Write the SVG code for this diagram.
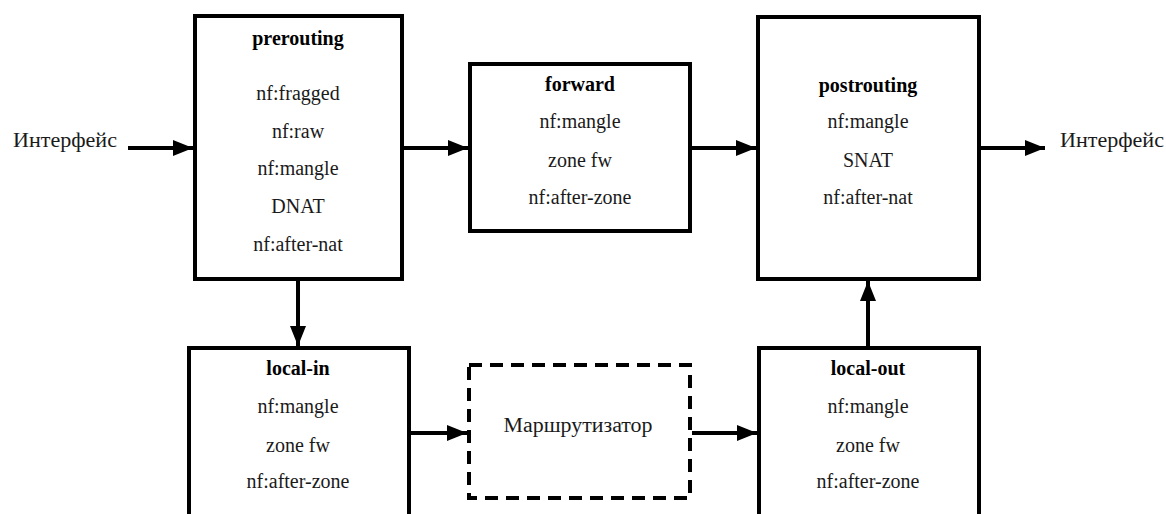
<svg xmlns="http://www.w3.org/2000/svg" width="1166" height="514" viewBox="0 0 1166 514" font-family="Liberation Serif, serif" font-size="20">
<style>
.box{fill:#fff;stroke:#000;stroke-width:4}
.dash{fill:#fff;stroke:#000;stroke-width:4;stroke-dasharray:13 8}
text{fill:#1a1a1a;text-anchor:middle}
.t{font-weight:bold;fill:#000}
.edge{stroke:#000;stroke-width:4;fill:none}
</style>
<defs>
<marker id="ah" markerUnits="userSpaceOnUse" markerWidth="22" markerHeight="18" refX="20" refY="8" orient="auto">
<path d="M0,0 L20,8 L0,16 Z" fill="#000"/>
</marker>
</defs>
<g id="connectors">
<line class="edge" x1="128" y1="148" x2="193" y2="148" marker-end="url(#ah)"/>
<line class="edge" x1="404" y1="148" x2="468" y2="148" marker-end="url(#ah)"/>
<line class="edge" x1="692" y1="148" x2="756" y2="148" marker-end="url(#ah)"/>
<line class="edge" x1="981" y1="148" x2="1045" y2="148" marker-end="url(#ah)"/>
<line class="edge" x1="298" y1="281" x2="298" y2="346" marker-end="url(#ah)"/>
<line class="edge" x1="411" y1="433" x2="467" y2="433" marker-end="url(#ah)"/>
<line class="edge" x1="692" y1="433" x2="757" y2="433" marker-end="url(#ah)"/>
<line class="edge" x1="868" y1="346" x2="868" y2="281" marker-end="url(#ah)"/>
</g>
<g id="iface-in"><text x="65" y="147" textLength="104" lengthAdjust="spacingAndGlyphs">Интерфейс</text></g>
<g id="iface-out"><text x="1112" y="147" textLength="104" lengthAdjust="spacingAndGlyphs">Интерфейс</text></g>
<g id="prerouting">
<rect class="box" x="195" y="16" width="207" height="263"/>
<text class="t" x="298" y="45">prerouting</text>
<text x="298" y="100">nf:fragged</text>
<text x="298" y="138">nf:raw</text>
<text x="298" y="175">nf:mangle</text>
<text x="298" y="213">DNAT</text>
<text x="298" y="251">nf:after-nat</text>
</g>
<g id="forward">
<rect class="box" x="470" y="64" width="220" height="167"/>
<text class="t" x="580" y="91">forward</text>
<text x="580" y="128">nf:mangle</text>
<text x="580" y="167">zone fw</text>
<text x="580" y="204">nf:after-zone</text>
</g>
<g id="postrouting">
<rect class="box" x="758" y="17" width="221" height="262"/>
<text class="t" x="868" y="92">postrouting</text>
<text x="868" y="128">nf:mangle</text>
<text x="868" y="167">SNAT</text>
<text x="868" y="204">nf:after-nat</text>
</g>
<g id="local-in">
<rect class="box" x="189" y="348" width="220" height="200"/>
<text class="t" x="298" y="375">local-in</text>
<text x="298" y="413">nf:mangle</text>
<text x="298" y="452">zone fw</text>
<text x="298" y="488">nf:after-zone</text>
</g>
<g id="router">
<rect class="dash" x="469" y="365" width="221" height="133"/>
<text x="578" y="432" textLength="149" lengthAdjust="spacingAndGlyphs">Маршрутизатор</text>
</g>
<g id="local-out">
<rect class="box" x="759" y="348" width="220" height="200"/>
<text class="t" x="868" y="375">local-out</text>
<text x="868" y="413">nf:mangle</text>
<text x="868" y="452">zone fw</text>
<text x="868" y="488">nf:after-zone</text>
</g>
</svg>
